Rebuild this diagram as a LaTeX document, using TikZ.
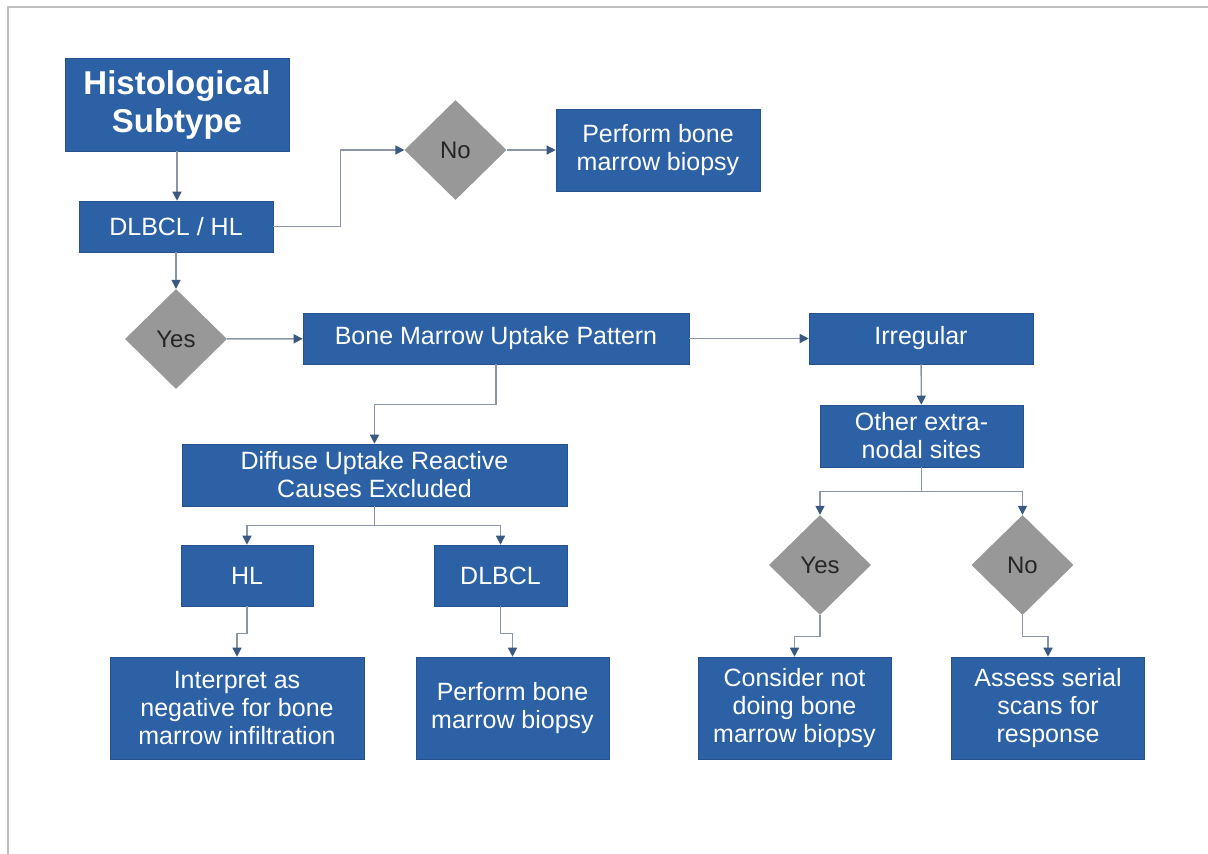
\documentclass[tikz,border=0pt]{standalone}
\usepackage{fontspec}
\setmainfont{Liberation Sans}
\usetikzlibrary{shapes.geometric}
\usetikzlibrary{arrows.meta}

\definecolor{boxblue}{RGB}{44,97,166}
\definecolor{decgray}{RGB}{152,152,152}
\definecolor{linegray}{RGB}{138,150,165}
\definecolor{tipblue}{RGB}{58,88,128}

\tikzset{
  box/.style={rectangle, fill=boxblue, draw=boxblue!85!black, line width=.6, text=white, align=center, inner sep=2, font=\fontsize{25}{28}\selectfont},
  dec/.style={diamond, fill=decgray, text=black!85, inner sep=0, minimum width=102, minimum height=100, font=\fontsize{24}{28}\selectfont},
  link/.style={linegray, line width=1.4, -{Triangle[length=9,width=9,color=tipblue]}}
}

\begin{document}
\begin{tikzpicture}[x=1pt, y=-1pt]
\useasboundingbox (0,0) rectangle (1208,854);
\draw[black!25, line width=1.5] (8,854) -- (8,7) -- (1208,7);

\node[box, minimum width=224, minimum height=93, font=\bfseries\fontsize{33}{38}\selectfont] (hist) at (177,104.5) {Histological\\Subtype};
\node[box, minimum width=194, minimum height=51] (dlhl) at (176,226.5) {DLBCL / HL};
\node[dec] (no1) at (455.5,150) {No};
\node[box, minimum width=204, minimum height=82] (pbmb1) at (658,150) {Perform bone\\marrow biopsy};
\node[dec] (yes1) at (176,339) {Yes};
\node[box, minimum width=386, minimum height=51] (bmup) at (496,338.5) {Bone Marrow Uptake Pattern};
\node[box, minimum width=224, minimum height=51] (irreg) at (921,338.5) {Irregular};
\node[box, minimum width=385, minimum height=62] (diff) at (374.5,475) {Diffuse Uptake Reactive\\Causes Excluded};
\node[box, minimum width=203, minimum height=62] (other) at (921.5,436) {Other extra-\\nodal sites};
\node[box, minimum width=132, minimum height=61] (hl) at (247,575.5) {HL};
\node[box, minimum width=133, minimum height=61] (dl) at (500.5,575.5) {DLBCL};
\node[dec] (yes2) at (820,565) {Yes};
\node[dec] (no2) at (1022.5,565) {No};
\node[box, minimum width=254, minimum height=102] (interp) at (237,708) {Interpret as\\negative for bone\\marrow infiltration};
\node[box, minimum width=193, minimum height=102] (pbmb2) at (512.5,708) {Perform bone\\marrow biopsy};
\node[box, minimum width=193, minimum height=102] (consid) at (794.5,708) {Consider not\\doing bone\\marrow biopsy};
\node[box, minimum width=193, minimum height=102] (assess) at (1048,708) {Assess serial\\scans for\\response};

\draw[link] (hist.south) -- (hist.south |- dlhl.north);
\draw[link] (dlhl.east) -- ++(67,0) |- (no1);
\draw[link] (no1) -- (pbmb1);
\draw[link] (dlhl) -- (yes1);
\draw[link] (yes1) -- (bmup);
\draw[link] (bmup) -- (irreg);
\draw[link] (bmup.south) -- ++(0,40) -| (diff);
\draw[link] (irreg) -- (other);
\foreach \to in {hl, dl} {
  \draw[link] (diff.south) -- ++(0,19) -| (\to);
}
\foreach \to in {yes2, no2} {
  \draw[link] (other.south) -- ++(0,24) -| (\to);
}
\draw[link] (hl.south) -- ++(0,27) -| (interp);
\draw[link] (dl.south) -- ++(0,27) -| (pbmb2);
\draw[link] (yes2.south) -- ++(0,21) -| (consid);
\draw[link] (no2.south) -- ++(0,21) -| (assess);
\end{tikzpicture}
\end{document}
